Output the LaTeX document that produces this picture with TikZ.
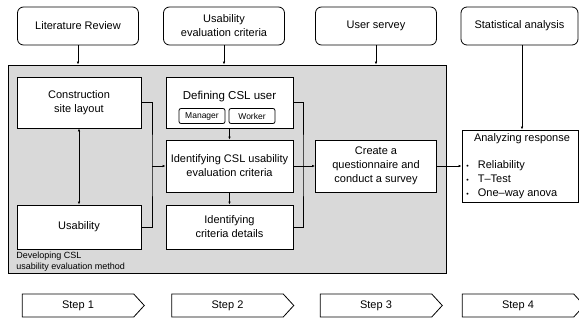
\documentclass[tikz,border=0pt]{standalone}
\usepackage{fontspec}
\setmainfont{Liberation Sans}
\usetikzlibrary{arrows.meta,shapes.symbols}

\tikzset{top/.style={draw,rounded corners=6pt,align=center,inner sep=1pt,
  minimum width=121pt,minimum height=38pt,font=\fontsize{11}{14}\selectfont}}
\tikzset{blk/.style={draw,fill=white,align=center,inner sep=1pt,
  font=\fontsize{11}{14}\selectfont}}
\tikzset{tag/.style={draw,rounded corners=2pt,fill=white,inner sep=0pt,
  minimum width=46pt,minimum height=15pt,font=\fontsize{8.5}{9}\selectfont}}
\tikzset{stp/.style={draw,signal,signal to=east,signal pointer angle=95,
  minimum width=122pt,minimum height=23pt,inner sep=0pt,font=\fontsize{11}{13}\selectfont}}
\tikzset{ar/.style={-{Latex[length=3pt,width=2.5pt]}}}
\definecolor{bggray}{RGB}{217,217,217}
\newcommand{\blt}{{\fontsize{7}{7}\selectfont\textbullet}\hspace{9pt}}

\begin{document}
\begin{tikzpicture}[x=1pt,y=-1pt,line width=0.8pt]
  \useasboundingbox (0,0) rectangle (579,320);

  % top row
  \node[top] (lit) at (78,26) {Literature Review};
  \node[top] (uec) at (224,26) {Usability\\evaluation criteria};
  \node[top] (usr) at (376,26) {User servey};
  \node[top,minimum width=117pt] (sta) at (519.5,26) {Statistical analysis};

  % method block
  \node[draw,fill=bggray,minimum width=438pt,minimum height=208pt,inner sep=0pt] (bg) at (227,169) {};
  \node[anchor=north west,align=left,inner sep=0pt,font=\fontsize{9}{11}\selectfont]
    (bgl) at (16,251.5) {Developing CSL\\usability evaluation method};

  \node[blk,minimum width=124pt,minimum height=51pt] (csl) at (79,102.5) {Construction\\site layout};
  \node[blk,minimum width=124pt,minimum height=44pt] (usab) at (79,227) {Usability};

  \node[blk,minimum width=127pt,minimum height=51pt] (def) at (229.5,102.5) {};
  \node[font=\fontsize{11.5}{13}\selectfont,inner sep=0pt] (defl) at (229.5,97) {Defining CSL user};
  \node[tag] (mgr) at (202,116) {Manager};
  \node[tag] (wrk) at (252,116) {Worker};
  \node[blk,minimum width=127pt,minimum height=52pt] (idc) at (229.5,166) {Identifying CSL usability\\evaluation criteria};
  \node[blk,minimum width=127pt,minimum height=44pt] (det) at (229.5,227) {Identifying\\criteria details};

  \node[blk,minimum width=121pt,minimum height=52pt] (crt) at (376,166) {Create a\\questionnaire and\\conduct a survey};

  % analysis
  \node[draw,fill=white,minimum width=116pt,minimum height=72pt,inner sep=0pt] (ana) at (520,166) {};
  \node[font=\fontsize{11}{13}\selectfont,inner sep=0pt] (anat) at (522,139) {Analyzing response};
  \node[anchor=west,align=left,inner sep=0pt,font=\fontsize{11}{14}\selectfont]
    (anab) at (466,179.5) {\blt Reliability\\\blt T--Test\\\blt One--way anova};

  % steps
  \node[stp] (s1) at (78,305.5) {Step 1};
  \node[stp] (s2) at (227.5,305.5) {Step 2};
  \node[stp] (s3) at (376,305.5) {Step 3};
  \node[stp] (s4) at (518,305.5) {Step 4};

  % connectors
  \coordinate (j1) at (152,166);
  \coordinate (j2) at (303,166);
  \draw[ar] (lit.south) -- (lit.south |- bg.north);
  \draw[ar] (uec.south) -- (uec.south |- bg.north);
  \draw[ar] (usr.south) -- (usr.south |- bg.north);
  \draw[ar] (sta.south -| anat) -- (anat |- ana.north);
  \draw[{Latex[length=3pt,width=2.5pt]}-{Latex[length=3pt,width=2.5pt]}] (csl) -- (usab);
  \draw (csl.east) -| (j1) |- (usab.east);
  \draw[ar] (j1) -- (idc.west);
  \draw[ar] (def) -- (idc);
  \draw[ar] (idc) -- (det);
  \draw (def.east) -| (j2) |- (det.east);
  \draw (idc.east) -- (j2);
  \draw[ar] (j2) -- (crt.west);
  \draw[ar] (crt.east) -- (ana.west);
\end{tikzpicture}
\end{document}
